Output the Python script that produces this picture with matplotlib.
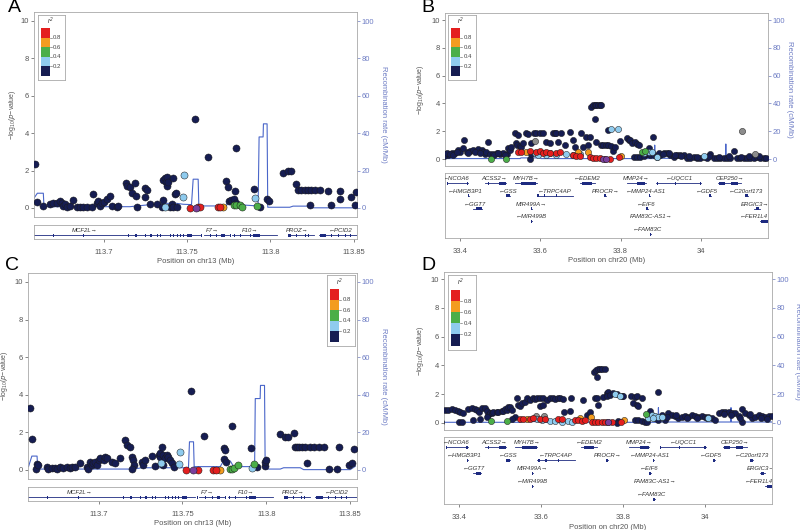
import matplotlib
matplotlib.use('Agg')
import matplotlib.pyplot as plt
import numpy as np
from matplotlib.patches import Rectangle

plt.rcParams['font.family'] = ['Liberation Sans', 'DejaVu Sans']
plt.rcParams['mathtext.default'] = 'regular'

# ---------------- data: chr13 (panels A, C) ----------------
# (position Mb, -log10 p)
A_navy = [(113.6586, 2.36), (113.6596, 0.34), (113.6632, 0.11), (113.6676, 0.21), (113.6696, 0.25),
          (113.6716, 0.29), (113.6736, 0.39), (113.6746, 0.25), (113.6756, 0.11), (113.6766, 0.20),
          (113.6776, 0.07), (113.6796, 0.11), (113.6816, 0.43), (113.6836, 0.07), (113.6856, 0.07),
          (113.6876, 0.07), (113.6896, 0.07), (113.6926, 0.07), (113.6936, 0.75), (113.6956, 0.25),
          (113.6966, 0.39), (113.6976, 0.11), (113.6986, 0.29), (113.7000, 0.34), (113.7016, 0.46),
          (113.7036, 0.64), (113.7046, 0.11), (113.7076, 0.07), (113.7086, 0.11), (113.7132, 1.36),
          (113.7136, 1.18), (113.7156, 1.14), (113.7166, 0.79), (113.7186, 1.36), (113.7192, 0.64),
          (113.7196, 0.07), (113.7246, 1.05), (113.7256, 0.96), (113.7246, 0.57), (113.7276, 0.21),
          (113.7316, 0.21), (113.7346, 0.07), (113.7356, 0.43), (113.7356, 1.50), (113.7366, 1.59),
          (113.7372, 1.41), (113.7376, 1.18), (113.7380, 1.68), (113.7386, 1.41), (113.7416, 1.59),
          (113.7396, 0.07), (113.7406, 0.21), (113.7416, 0.07), (113.7426, 0.75), (113.7432, 0.82),
          (113.7436, 0.07), (113.7550, 4.77), (113.7626, 2.75), (113.7736, 1.46), (113.7746, 1.11),
          (113.7786, 0.91), (113.7792, 3.20), (113.7752, 0.39), (113.7766, 0.43), (113.7780, 0.46),
          (113.7796, 0.25), (113.7900, 1.02), (113.7936, 0.07), (113.7980, 0.46), (113.7992, 0.39),
          (113.8076, 1.89), (113.8106, 1.98), (113.8126, 1.98), (113.8156, 1.29), (113.8166, 0.96),
          (113.8186, 0.96), (113.8206, 0.96), (113.8226, 0.96), (113.8246, 0.96), (113.8266, 0.96),
          (113.8296, 0.96), (113.8236, 0.16), (113.8346, 0.93), (113.8366, 0.16), (113.8416, 0.93),
          (113.8416, 0.46), (113.8486, 0.61), (113.8512, 0.88), (113.8506, 0.16)]
A_lblue = [(113.7482, 1.75), (113.7476, 0.57), (113.7366, 0.04), (113.7906, 0.52)]
A_green = [(113.7780, 0.16), (113.7796, 0.16), (113.7816, 0.16), (113.7830, 0.07), (113.7920, 0.11)]
A_orange = [(113.7716, 0.07)]
A_red = [(113.7516, 0.02), (113.7566, 0.05), (113.7580, 0.05), (113.7686, 0.05), (113.7696, 0.05)]
A_purple = [(113.7556, 0.02)]
A_grey = []
# (position Mb, cM/Mb)
A_recomb = [(113.6566, 3.4), (113.6600, 7.9), (113.6636, 7.9), (113.6640, 0.7), (113.7156, 0.7),
            (113.7256, 1.6), (113.7356, 2.5), (113.7436, 2.5), (113.7476, 2.0), (113.7526, 1.8),
            (113.7536, 15.4), (113.7566, 15.4), (113.7570, 1.1), (113.7736, 1.1), (113.7746, 4.3),
            (113.7776, 4.3), (113.7796, 1.6), (113.7836, 1.6), (113.7926, 1.1), (113.7932, 38),
            (113.7956, 38), (113.7958, 45), (113.7980, 45), (113.7984, 0.4), (113.8116, 0.4),
            (113.8136, 1.0), (113.8226, 1.0), (113.8256, 0.1), (113.8506, 0.1), (113.8526, 2.5)]

C_navy = [(113.6589, 3.31), (113.6603, 1.65), (113.6628, 0.05), (113.6636, 0.30), (113.6642, 0.27),
          (113.6692, 0.18), (113.6702, 0.05), (113.6722, 0.12), (113.6742, 0.09), (113.6752, 0.05),
          (113.6772, 0.18), (113.6791, 0.12), (113.6811, 0.18), (113.6831, 0.12), (113.6841, 0.18),
          (113.6861, 0.18), (113.6891, 0.35), (113.6930, 0.18), (113.6940, 0.05), (113.6950, 0.44),
          (113.6960, 0.27), (113.6970, 0.35), (113.6980, 0.41), (113.6990, 0.27), (113.7000, 0.53),
          (113.7010, 0.62), (113.7030, 0.53), (113.7040, 0.71), (113.7050, 0.65), (113.7079, 0.44),
          (113.7099, 0.35), (113.7129, 0.65), (113.7159, 1.59), (113.7169, 1.33), (113.7189, 1.24),
          (113.7199, 0.71), (113.7205, 0.53), (113.7209, 0.27), (113.7199, 0.05), (113.7258, 0.44),
          (113.7268, 0.27), (113.7278, 0.53), (113.7318, 0.76), (113.7338, 0.23), (113.7358, 0.80),
          (113.7364, 0.71), (113.7368, 0.88), (113.7378, 1.24), (113.7387, 0.80), (113.7397, 0.62),
          (113.7407, 0.80), (113.7417, 0.71), (113.7427, 0.53), (113.7437, 0.35), (113.7447, 0.18),
          (113.7387, 0.27), (113.7552, 4.21), (113.7630, 1.81), (113.7745, 1.19), (113.7755, 1.06),
          (113.7749, 0.58), (113.7757, 0.44), (113.7795, 2.35), (113.7908, 1.15), (113.7944, 0.18),
          (113.7993, 0.23), (113.7993, 0.44), (113.7997, 0.53), (113.8083, 1.89), (113.8113, 1.77),
          (113.8127, 1.77), (113.8162, 1.98), (113.8172, 1.24), (113.8182, 1.24), (113.8192, 1.24),
          (113.8212, 1.24), (113.8232, 1.24), (113.8262, 1.24), (113.8282, 1.24), (113.8311, 1.24),
          (113.8341, 1.24), (113.8242, 0.39), (113.8371, 0.04), (113.8421, 0.04), (113.8431, 1.24),
          (113.8490, 0.27), (113.8510, 0.35), (113.8520, 1.12)]
C_lblue = [(113.7487, 0.97), (113.7477, 0.32), (113.7372, 0.35), (113.7914, 0.12)]
C_green = [(113.7781, 0.05), (113.7795, 0.05), (113.7805, 0.12), (113.7834, 0.27), (113.7924, 0.32)]
C_orange = [(113.7725, 0.0)]
C_red = [(113.7523, 0.0), (113.7592, 0.0), (113.7685, 0.0), (113.7701, 0.0)]
C_purple = [(113.7562, 0.0)]
C_grey = []
C_recomb = [(113.6583, 1.8), (113.6603, 7.4), (113.6634, 7.4), (113.6638, 0.5), (113.7209, 0.5),
            (113.7258, 1.2), (113.7447, 1.2), (113.7536, 1.2), (113.7542, 15.0), (113.7566, 15.0),
            (113.7570, 1.8), (113.7725, 1.8), (113.7745, 4.8), (113.7785, 4.8), (113.7805, 1.8),
            (113.7930, 1.8), (113.7934, 38), (113.7963, 38), (113.7965, 45), (113.7989, 45),
            (113.7993, 0.5), (113.8083, 0.5), (113.8103, 1.2), (113.8202, 1.2), (113.8222, 0.2),
            (113.8500, 0.2), (113.8530, 2.0)]

# genes chr13: (name, start, end, strand, row, label position)
genes13 = [('MCF2L', 113.640, 113.7575, '+', 0, 113.6885),
           ('F7', 113.7600, 113.7750, '+', 0, 113.7650),
           ('F10', 113.7770, 113.8040, '+', 0, 113.7880),
           ('PROZ', 113.8115, 113.8260, '+', 0, 113.8160),
           ('PCID2', 113.8290, 113.8560, '-', 0, 113.8420)]
exons13 = [(113.6696, 113.6702, 0), (113.6876, 113.6882, 0), (113.7146, 113.7152, 0),
           (113.7186, 113.7200, 0), (113.7246, 113.7252, 0), (113.7276, 113.7290, 0),
           (113.7316, 113.7322, 0), (113.7336, 113.7342, 0), (113.7396, 113.7402, 0),
           (113.7416, 113.7422, 0), (113.7436, 113.7442, 0), (113.7456, 113.7462, 0),
           (113.7476, 113.7482, 0), (113.7496, 113.7526, 0), (113.7586, 113.7592, 0),
           (113.7636, 113.7642, 0), (113.7676, 113.7682, 0), (113.7706, 113.7726, 0),
           (113.7756, 113.7762, 0), (113.7780, 113.7786, 0), (113.7816, 113.7822, 0),
           (113.7876, 113.7882, 0), (113.7896, 113.7936, 0), (113.8106, 113.8126, 0),
           (113.8156, 113.8162, 0), (113.8206, 113.8212, 0), (113.8226, 113.8232, 0),
           (113.8296, 113.8336, 0), (113.8366, 113.8372, 0), (113.8406, 113.8412, 0),
           (113.8446, 113.8452, 0), (113.8476, 113.8482, 0)]

# ---------------- data: chr20 (panels B, D) ----------------
B_navy = [(33.3544, 0.22), (33.3627, 0.36), (33.3710, 0.29), (33.3793, 0.46), (33.3876, 0.41),
          (33.3959, 0.65), (33.4000, 0.53), (33.4066, 0.77), (33.4108, 1.37), (33.4166, 0.53),
          (33.4249, 0.60), (33.4332, 0.65), (33.4415, 0.60), (33.4456, 0.70), (33.4539, 0.65),
          (33.4580, 0.53), (33.4622, 0.36), (33.4705, 1.25), (33.4663, 0.53), (33.4746, 0.36),
          (33.4829, 0.36), (33.4912, 0.41), (33.4995, 0.36), (33.5078, 0.46), (33.5161, 0.36),
          (33.5202, 0.77), (33.5244, 0.65), (33.5285, 0.89), (33.5368, 1.85), (33.5451, 1.73),
          (33.5393, 1.13), (33.5426, 1.01), (33.5493, 0.94), (33.5534, 0.89), (33.5575, 1.13),
          (33.5642, 1.89), (33.5700, 1.77), (33.5783, 1.13), (33.5849, 1.89), (33.5907, 1.89),
          (33.5990, 1.89), (33.6073, 1.89), (33.6156, 1.25), (33.6239, 1.13), (33.6322, 1.89),
          (33.6363, 1.89), (33.6405, 1.89), (33.6446, 1.25), (33.6529, 1.89), (33.6612, 1.01),
          (33.6736, 1.97), (33.6819, 1.37), (33.6861, 0.89), (33.7027, 1.85), (33.7068, 0.89),
          (33.7151, 1.61), (33.7192, 1.01), (33.7234, 1.61), (33.7275, 3.76), (33.7317, 3.88),
          (33.7358, 3.88), (33.7400, 3.88), (33.7441, 3.88), (33.7483, 3.88), (33.7524, 3.88),
          (33.7358, 2.85), (33.7400, 1.25), (33.7524, 1.01), (33.7566, 1.01), (33.7648, 1.01),
          (33.7690, 1.01), (33.7690, 2.09), (33.5741, 0.0), (33.5783, 0.36), (33.3600, 0.20),
          (33.3680, 0.40), (33.3760, 0.35), (33.3840, 0.30), (33.3920, 0.50), (33.4200, 0.45),
          (33.4380, 0.50), (33.4500, 0.40), (33.4860, 0.30), (33.4960, 0.45), (33.5120, 0.30),
          (33.7773, 0.94), (33.7814, 0.60), (33.7856, 0.89), (33.7980, 1.29), (33.8164, 1.49),
          (33.8205, 1.37), (33.8247, 1.37), (33.8288, 1.13), (33.8371, 1.25), (33.8413, 1.06),
          (33.8454, 0.98), (33.8703, 0.77), (33.8811, 1.61), (33.8330, 0.17), (33.8413, 0.12),
          (33.8496, 0.17), (33.8579, 0.22), (33.8662, 0.36), (33.8745, 0.29), (33.8828, 0.29),
          (33.8910, 0.12), (33.8993, 0.29), (33.9076, 0.46), (33.9159, 0.46), (33.9242, 0.29),
          (33.9325, 0.17), (33.9408, 0.29), (33.9490, 0.29), (33.9573, 0.29), (33.9656, 0.05),
          (33.9739, 0.05), (33.9822, 0.12), (33.9905, 0.05), (33.9988, 0.05), (34.0071, 0.17),
          (34.0154, 0.05), (34.0236, 0.36), (34.0319, 0.05), (34.0402, 0.05), (34.0485, 0.05),
          (34.0568, 0.05), (34.0651, 0.05), (34.0734, 0.05), (34.0817, 0.60), (34.0900, 0.05),
          (34.0982, 0.05), (34.1065, 0.05), (34.1148, 0.05), (34.1231, 0.05), (34.1314, 0.05),
          (34.1397, 0.12), (34.1480, 0.05), (34.1563, 0.05), (33.8950, 0.40), (33.9050, 0.35),
          (33.9200, 0.40), (33.9350, 0.30), (33.9500, 0.20), (33.9700, 0.20), (33.9900, 0.15),
          (34.0200, 0.20), (34.0450, 0.15), (34.0700, 0.20), (34.1000, 0.15), (34.1200, 0.20),
          (34.1450, 0.20), (34.1620, 0.10)]
B_lblue = [(33.5866, 0.41), (33.5949, 0.29), (33.6156, 0.29), (33.6239, 0.41), (33.6405, 0.29),
           (33.6653, 0.36), (33.6819, 0.29), (33.6985, 0.36), (33.7773, 2.16), (33.7939, 2.16),
           (33.8579, 0.41), (33.8703, 0.53), (33.8786, 0.53), (33.8910, 0.17), (34.0071, 0.22)]
B_green = [(33.4763, 0.0), (33.5144, 0.0), (33.8537, 0.53), (33.8620, 0.60)]
B_orange = [(33.5642, 0.53), (33.6944, 0.53), (33.7192, 0.53), (33.8005, 0.22)]
B_red = [(33.5451, 0.53), (33.5534, 0.53), (33.5741, 0.60), (33.5907, 0.53), (33.5990, 0.60),
         (33.6073, 0.46), (33.6156, 0.53), (33.6239, 0.46), (33.6405, 0.46), (33.6488, 0.53),
         (33.6819, 0.29), (33.6902, 0.22), (33.6985, 0.22), (33.7234, 0.12), (33.7317, 0.05),
         (33.7400, 0.05), (33.7483, 0.05), (33.7607, 0.0), (33.7731, 0.0), (33.7956, 0.12)]
B_purple = [(33.7566, 0.0), (33.7648, 0.0)]
B_grey = [(33.5866, 1.32), (34.1024, 2.01), (34.1355, 0.36)]
B_recomb = [(33.363, 0.3), (33.550, 0.3), (33.552, 0.8), (33.600, 0.8), (33.602, 0.3),
            (33.884, 0.3), (33.885, 10.0), (33.886, 0.5), (34.061, 0.5), (34.062, 10.8),
            (34.063, 0.5), (34.167, 0.5)]

D_navy = [(33.3569, 0.02), (33.3650, 0.88), (33.3731, 0.88), (33.3813, 0.95), (33.3894, 0.88),
          (33.3976, 0.81), (33.4016, 0.72), (33.4098, 0.65), (33.4000, 0.02), (33.4057, 0.02),
          (33.4220, 0.95), (33.4301, 1.00), (33.4383, 0.95), (33.4423, 0.88), (33.4488, 0.77),
          (33.4545, 1.00), (33.4627, 1.00), (33.4667, 0.81), (33.4708, 0.53), (33.4749, 0.65),
          (33.4790, 0.65), (33.4830, 0.72), (33.4912, 0.77), (33.4952, 0.77), (33.5034, 0.81),
          (33.5074, 0.81), (33.5115, 0.95), (33.5156, 0.88), (33.5197, 1.12), (33.5237, 1.12),
          (33.5278, 0.88), (33.4342, 0.19), (33.4505, 0.26), (33.4667, 0.42), (33.5359, 0.42),
          (33.5278, 0.26), (33.5400, 1.74), (33.5441, 1.23), (33.5481, 1.19), (33.5522, 1.35),
          (33.5604, 1.47), (33.5661, 1.70), (33.5726, 1.58), (33.5791, 1.70), (33.5848, 1.65),
          (33.5889, 1.70), (33.5970, 1.74), (33.6051, 1.70), (33.6133, 1.58), (33.6214, 1.70),
          (33.6295, 1.74), (33.6336, 1.65), (33.6418, 1.74), (33.6458, 1.70), (33.6540, 1.65),
          (33.6719, 1.74), (33.6556, 0.77), (33.6702, 0.81), (33.7028, 1.58), (33.7109, 0.53),
          (33.7289, 3.56), (33.7337, 3.67), (33.7394, 3.74), (33.7435, 3.74), (33.7476, 3.74),
          (33.7354, 3.21), (33.7313, 1.70), (33.7354, 1.70), (33.7394, 1.23), (33.7516, 1.81),
          (33.7598, 2.05), (33.7639, 2.12), (33.5970, 1.19), (33.6051, 1.23), (33.7191, 0.77),
          (33.7557, 3.74), (33.7598, 1.88), (33.7679, 1.93), (33.7760, 2.05), (33.7842, 1.98),
          (33.7964, 1.88), (33.8005, 1.84), (33.8192, 1.84), (33.8290, 1.81), (33.8331, 1.84),
          (33.8453, 1.74), (33.8249, 1.35), (33.8331, 1.23), (33.8371, 1.19), (33.8844, 2.16),
          (33.8290, 0.19), (33.8371, 0.19), (33.8453, 0.12), (33.8534, 0.02), (33.8575, 0.02),
          (33.8656, 0.81), (33.8779, 0.30), (33.8860, 0.19), (33.8942, 0.53), (33.8982, 0.42),
          (33.9023, 0.19), (33.9104, 0.65), (33.9186, 0.53), (33.9267, 0.49), (33.9349, 0.35),
          (33.9430, 0.42), (33.9512, 0.49), (33.9593, 0.42), (33.9674, 0.53), (33.9756, 0.49),
          (33.9837, 0.42), (33.9919, 0.49), (34.0000, 0.42), (34.0081, 0.42), (34.0163, 0.35),
          (34.0244, 0.19), (34.0326, 0.65), (34.0407, 0.77), (34.0488, 0.77), (34.0570, 0.77),
          (34.0651, 0.70), (34.0733, 0.65), (34.0814, 0.49), (34.0895, 0.95), (34.0895, 0.02),
          (34.0977, 0.65), (34.1058, 0.53), (34.1140, 0.35), (34.1221, 0.42), (34.1302, 0.53),
          (34.1384, 0.49), (34.1465, 0.42), (34.1547, 0.49), (34.1628, 0.49), (33.7882, 0.12),
          (33.7842, 0.0), (33.9060, 0.40), (33.9300, 0.55), (33.9550, 0.30), (33.9800, 0.30),
          (34.0050, 0.30), (34.0450, 0.60), (34.0620, 0.55), (34.0850, 0.30), (34.1100, 0.60),
          (34.1350, 0.30), (34.1500, 0.25)]
D_lblue = [(33.6011, 0.19), (33.6214, 0.12), (33.6336, 0.12), (33.6499, 0.07), (33.6662, 0.12),
           (33.6743, 0.07), (33.5889, 0.26), (33.7801, 2.00), (33.7923, 1.88), (33.8616, 0.35),
           (33.8697, 0.53), (33.8779, 0.49), (33.8860, 0.42), (33.8942, 0.42), (34.0081, 0.30),
           (33.8738, 0.30)]
D_green = [(33.4773, 0.12), (33.5156, 0.12), (33.8551, 0.58)]
D_orange = [(33.5661, 0.26), (33.6947, 0.35), (33.7207, 0.42), (33.8029, 0.19)]
D_red = [(33.5481, 0.26), (33.5563, 0.26), (33.5726, 0.26), (33.5807, 0.30), (33.5970, 0.26),
         (33.6092, 0.26), (33.6418, 0.26), (33.6499, 0.26), (33.6825, 0.19), (33.6906, 0.19),
         (33.6987, 0.12), (33.7069, 0.19), (33.7232, 0.07), (33.7313, 0.07), (33.7394, 0.07),
         (33.7476, 0.02), (33.7557, 0.02), (33.7720, 0.02), (33.7948, 0.07)]
D_purple = [(33.7639, 0.02), (33.7622, 0.02)]
D_grey = [(33.5872, 0.49), (33.6068, 0.49)]
D_recomb = [(33.363, 0.3), (33.550, 0.3), (33.552, 0.8), (33.600, 0.8), (33.602, 0.3),
            (33.885, 0.3), (33.886, 10.5), (33.887, 0.5), (34.062, 0.5), (34.063, 10.5),
            (34.064, 0.5), (34.163, 0.5)]

genes20 = [('NCOA6', 33.367, 33.421, '-', 0, 33.392),
           ('ACSS2', 33.462, 33.514, '+', 0, 33.485),
           ('MYH7B', 33.537, 33.591, '+', 0, 33.565),
           ('EDEM2', 33.698, 33.736, '-', 0, 33.718),
           ('MMP24', 33.815, 33.864, '+', 0, 33.839),
           ('UQCC1', 33.889, 34.001, '-', 0, 33.947),
           ('CEP250', 34.043, 34.101, '+', 0, 34.072),
           ('HMGB3P1', 33.420, 33.422, '-', 1, 33.412),
           ('GSS', 33.514, 33.524, '-', 1, 33.520),
           ('TRPC4AP', 33.591, 33.682, '-', 1, 33.636),
           ('PROCR', 33.759, 33.763, '+', 1, 33.763),
           ('MMP24-AS1', 33.872, 33.874, '-', 1, 33.864),
           ('GDF5', 34.020, 34.024, '-', 1, 34.014),
           ('C20orf173', 34.109, 34.117, '-', 1, 34.113),
           ('GGT7', 33.433, 33.454, '-', 2, 33.437),
           ('MIR499A', 33.578, 33.579, '+', 2, 33.578),
           ('EIF6', 33.864, 33.868, '-', 2, 33.864),
           ('ERGIC3', 34.133, 34.146, '+', 2, 34.135),
           ('MIR499B', 33.578, 33.579, '-', 3, 33.578),
           ('FAM83C-AS1', 33.865, 33.866, '+', 3, 33.877),
           ('FER1L4', 34.146, 34.166, '-', 3, 34.132),
           ('FAM83C', 33.873, 33.877, '-', 4, 33.868)]
exons20 = [(33.367, 33.370, 0), (33.417, 33.421, 0), (33.470, 33.473, 0), (33.497, 33.514, 0),
           (33.553, 33.589, 0), (33.705, 33.728, 0), (33.840, 33.862, 0), (33.890, 33.893, 0),
           (33.935, 33.938, 0), (33.998, 34.001, 0), (34.045, 34.060, 0), (34.075, 34.092, 0),
           (33.420, 33.422, 1), (33.514, 33.524, 1), (33.593, 33.598, 1), (33.610, 33.613, 1),
           (33.640, 33.643, 1), (33.759, 33.763, 1), (33.872, 33.874, 1), (34.020, 34.024, 1),
           (34.109, 34.117, 1), (33.440, 33.454, 2), (33.578, 33.579, 2), (33.864, 33.868, 2),
           (34.136, 34.144, 2), (33.578, 33.579, 3), (33.865, 33.866, 3), (34.150, 34.166, 3),
           (33.873, 33.877, 4)]

r2_levels = [0.2, 0.4, 0.6, 0.8]

# ---------------- style ----------------
W, H = 800, 530
NAVY = '#161d52'
LBLUE = '#8fcbee'
GREEN = '#4bae48'
ORANGE = '#f39c1f'
RED = '#e41f1f'
PURPLE = '#7a3f9d'
GREY = '#8c8c8c'
REC = '#4a66c9'
RTXT = '#6d7cc4'
FRAME = '#a8a8a8'
TXT = '#555555'
GENE = '#1d2a80'

fig = plt.figure(figsize=(8, 5.3), dpi=100)


def px_axes(l, t, r, b):
    return fig.add_axes([l / W, 1 - b / H, (r - l) / W, (b - t) / H])


def style_frame(ax):
    for s in ax.spines.values():
        s.set_color(FRAME)
        s.set_linewidth(0.6)


def main_panel(rect, xlim, groups, recomb, size, ylab_x, rlab_x):
    ax = px_axes(*rect)
    style_frame(ax)
    ax.set_xlim(xlim)
    ax.set_ylim(-0.5, 10.5)
    ax.set_xticks([])
    ax.set_yticks([0, 2, 4, 6, 8, 10])
    ax.tick_params(axis='y', labelsize=5.5, colors=TXT, length=2, width=0.5, pad=1.5)
    ax2 = ax.twinx()
    ax2.set_ylim(-5, 105)
    ax2.set_yticks([0, 20, 40, 60, 80, 100])
    ax2.tick_params(axis='y', labelsize=5.5, colors=RTXT, length=2, width=0.5, pad=1.5)
    for s in ax2.spines.values():
        s.set_visible(False)
    rx, ry = zip(*recomb)
    ax2.plot(rx, ry, color=REC, lw=0.8, zorder=1)
    ax.set_zorder(ax2.get_zorder() + 1)
    ax.patch.set_visible(False)
    for pts, col in groups:
        if not pts:
            continue
        x, y = np.array(pts).T
        ax.scatter(x, y, s=size, c=col, edgecolors='#1a1a1a', linewidths=0.35, zorder=3)
    t, b = rect[1], rect[3]
    fig.text(ylab_x / W, 1 - (t + b) / 2 / H, '−log$_{10}$($\\it{p}$−value)', rotation=90,
             ha='center', va='center', fontsize=5, color=TXT)
    fig.text(rlab_x / W, 1 - (t + b) / 2 / H, 'Recombination rate (cM/Mb)', rotation=270,
             ha='center', va='center', fontsize=5.5, color=RTXT)
    return ax


def gene_panel(rect, xlim, genes, exons, height, gap, ticks, ticklabels, xlabel, labelpad):
    ax = px_axes(*rect)
    style_frame(ax)
    ax.set_xlim(xlim)
    ax.set_ylim(height, 0)
    ax.set_yticks([])
    ax.set_xticks(ticks)
    ax.set_xticklabels(ticklabels)
    ax.tick_params(axis='x', labelsize=5.5, colors=TXT, length=2, width=0.5, pad=5)
    ax.set_xlabel(xlabel, fontsize=5.5, color=TXT, labelpad=labelpad)
    for name, start, end, strand, row, lab in genes:
        y = 5.5 + row * gap
        ax.plot([start, end], [y + 4.5, y + 4.5], color=GENE, lw=0.6, clip_on=True)
        label = '←' + name if strand == '-' else name + '→'
        ax.text(lab, y, label, ha='center', va='center', fontsize=4.3, style='italic',
                color='#333333', clip_on=True)
    for start, end, row in exons:
        y = 5.5 + row * gap
        ax.add_patch(Rectangle((start, y + 3.0), max(end - start, 0.0005), 3.0,
                               facecolor=GENE, edgecolor='none'))
    return ax


def legend_box(rect):
    ax = px_axes(*rect)
    style_frame(ax)
    ax.set_xlim(0, 1)
    ax.set_ylim(0, 1)
    ax.set_xticks([])
    ax.set_yticks([])
    cols = [NAVY, LBLUE, GREEN, ORANGE, RED]
    edges = [0.06] + [0.06 + 0.148 * (i + 1) for i in range(4)] + [0.8]
    for i, c in enumerate(cols):
        ax.add_patch(Rectangle((0.12, edges[i]), 0.32, edges[i + 1] - edges[i], facecolor=c,
                               edgecolor='none'))
    for i, lev in enumerate(r2_levels):
        ax.plot([0.44, 0.5], [edges[i + 1]] * 2, color='#555555', lw=0.4)
        ax.text(0.55, edges[i + 1], f'{lev:.1f}', fontsize=4.3, va='center', ha='left', color='#444444')
    ax.text(0.45, 0.9, 'r$^2$', fontsize=4.8, ha='center', va='center', style='italic', color='#333333')


def groups(navy, lblue, green, orange, red, purple, grey):
    return [(navy, NAVY), (grey, GREY), (lblue, LBLUE), (green, GREEN), (orange, ORANGE),
            (red, RED), (purple, PURPLE)]


# panel A
main_panel((34, 11.65, 357, 217.35), (113.658, 113.852),
           groups(A_navy, A_lblue, A_green, A_orange, A_red, A_purple, A_grey), A_recomb, 26, 12, 383)
gene_panel((34, 225, 357, 239), (113.658, 113.852), genes13, exons13, 14, 0,
           [113.7, 113.75, 113.8, 113.85], ['113.7', '113.75', '113.8', '113.85'],
           'Position on chr13 (Mb)', 1.5)
legend_box((38, 15, 65, 80))

# panel C
main_panel((28, 272.6, 357, 479.4), (113.658, 113.854),
           groups(C_navy, C_lblue, C_green, C_orange, C_red, C_purple, C_grey), C_recomb, 26, 5, 383)
gene_panel((28, 487, 357, 501), (113.658, 113.854), genes13, exons13, 14, 0,
           [113.7, 113.75, 113.8, 113.85], ['113.7', '113.75', '113.8', '113.85'],
           'Position on chr13 (Mb)', 1.5)
legend_box((327, 275, 355, 346))

# panel B
main_panel((445, 13.05, 768, 165.95), (33.363, 34.167),
           groups(B_navy, B_lblue, B_green, B_orange, B_red, B_purple, B_grey), B_recomb, 20, 420, 790)
gene_panel((445, 173, 768, 238), (33.363, 34.167), genes20, exons20, 65, 12.8,
           [33.4, 33.6, 33.8, 34.0], ['33.4', '33.6', '33.8', '34'],
           'Position on chr20 (Mb)', 2)
legend_box((448, 15, 476, 80))

# panel D
main_panel((444, 272.1, 772, 429.9), (33.363, 34.163),
           groups(D_navy, D_lblue, D_green, D_orange, D_red, D_purple, D_grey), D_recomb, 20, 420, 797)
gene_panel((444, 437, 772, 504), (33.363, 34.163), genes20, exons20, 67, 13.1,
           [33.4, 33.6, 33.8, 34.0], ['33.4', '33.6', '33.8', '34'],
           'Position on chr20 (Mb)', 2.5)
legend_box((448, 275, 476, 350))

for letter, x, y in [('A', 14, 8), ('B', 428, 8), ('C', 12, 266), ('D', 428, 266)]:
    fig.text(x / W, 1 - y / H, letter, fontsize=14, ha='center', va='center', color='black')

fig.savefig('out.png', dpi=100)
